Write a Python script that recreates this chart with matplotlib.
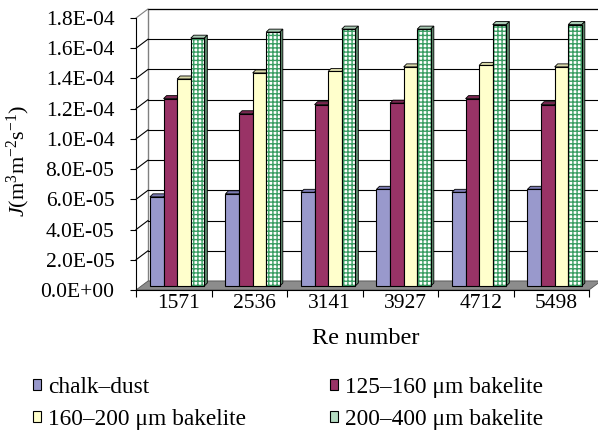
import matplotlib.pyplot as plt
import numpy as np
from matplotlib.patches import Polygon, Rectangle

plt.rcParams['font.family'] = ['Liberation Serif', 'DejaVu Serif']
plt.rcParams['mathtext.fontset'] = 'custom'
plt.rcParams['mathtext.rm'] = 'Liberation Serif'
plt.rcParams['mathtext.it'] = 'Liberation Serif:italic'
plt.rcParams['hatch.linewidth'] = 1.0

# data
re_numbers = ['1571', '2536', '3141', '3927', '4712', '5498']
series_names = ['chalk–dust', '125–160 μm bakelite', '160–200 μm bakelite', '200–400 μm bakelite']
chalk_dust = [5.9e-5, 6.1e-5, 6.2e-5, 6.4e-5, 6.2e-5, 6.4e-5]
bakelite_125_160 = [1.24e-4, 1.14e-4, 1.20e-4, 1.21e-4, 1.24e-4, 1.20e-4]
bakelite_160_200 = [1.37e-4, 1.41e-4, 1.42e-4, 1.45e-4, 1.46e-4, 1.45e-4]
bakelite_200_400 = [1.64e-4, 1.68e-4, 1.70e-4, 1.70e-4, 1.73e-4, 1.73e-4]
y_ticks = [0, 2e-5, 4e-5, 6e-5, 8e-5, 1e-4, 1.2e-4, 1.4e-4, 1.6e-4, 1.8e-4]

series = [chalk_dust, bakelite_125_160, bakelite_160_200, bakelite_200_400]
front_cols = ['#9999cc', '#993366', '#ffffcc', 'white']
top_cols = ['#7c7cb3', '#7a2851', '#d9d9aa', '#a9c9b3']
side_cols = ['#64649a', '#5f1f40', '#b3b38c', '#5e8a6c']
legend_cols = ['#9999cc', '#993366', '#ffffcc', '#b5dcc2']

n = len(re_numbers)
ymax = 1.8e-4
px_y = 272 / ymax          # pixels per unit on value axis
px_x = 75.5                # pixels per category
dxw, dyw = 12 / px_x, 9 / px_y     # wall depth
dxb, dyb = 3 / px_x, 3 / px_y      # bar depth
z0 = 4 / px_y                      # bars sit mid-floor
bw = 0.18
off = 0.185

fig = plt.figure(figsize=(5.98, 4.30), dpi=100)
ax = fig.add_axes([136 / 598, 140 / 430, 453 / 598, 272 / 430])
ax.set_xlim(0, n)
ax.set_ylim(0, ymax)

# back wall, side wall, floor
ax.add_patch(Rectangle((dxw, dyw), n, ymax, fc='white', ec='#808080', lw=1.0,
                       clip_on=False, zorder=0))
for t in y_ticks[1:]:
    ax.plot([dxw, n + dxw], [t + dyw, t + dyw], color='black', lw=0.8,
            clip_on=False, zorder=0.5)
    ax.plot([0, dxw], [t, t + dyw], color='black' if t < ymax else '#808080',
            lw=0.8, clip_on=False, zorder=0.5)
ax.add_patch(Polygon([(0, 0), (n, 0), (n + dxw, dyw), (dxw, dyw)], closed=True,
                     fc='#8c8c8c', ec='#555555', lw=0.6, clip_on=False, zorder=1))

x = np.arange(n)
for j, vals in enumerate(series):
    left = x + off + j * bw
    zf = 3 + 2 * j
    if j == 3:
        bars = ax.bar(left, vals, width=bw, bottom=z0, align='edge', color='white',
                      edgecolor='#3a9d63', hatch='++++', linewidth=0, zorder=zf)
        ax.bar(left, vals, width=bw, bottom=z0, align='edge', fill=False,
               edgecolor='black', linewidth=0.8, zorder=zf)
    else:
        bars = ax.bar(left, vals, width=bw, bottom=z0, align='edge',
                      color=front_cols[j], edgecolor='black', linewidth=0.8, zorder=zf)
    for b in bars:
        x0, w = b.get_x(), b.get_width()
        y1 = b.get_y() + b.get_height()
        y0 = b.get_y()
        top = [(x0, y1), (x0 + w, y1), (x0 + w + dxb, y1 + dyb), (x0 + dxb, y1 + dyb)]
        side = [(x0 + w, y0), (x0 + w + dxb, y0 + dyb), (x0 + w + dxb, y1 + dyb), (x0 + w, y1)]
        ax.add_patch(Polygon(top, closed=True, fc=top_cols[j], ec='black', lw=0.6,
                             zorder=zf - 1, clip_on=False))
        ax.add_patch(Polygon(side, closed=True, fc=side_cols[j], ec='black', lw=0.6,
                             zorder=zf - 1, clip_on=False))

for s in ['top', 'right']:
    ax.spines[s].set_visible(False)
ax.spines['left'].set_zorder(20)
ax.spines['bottom'].set_zorder(20)
ax.set_facecolor('none')

ax.set_yticks(y_ticks)
ax.set_yticklabels([f'{v:.1E}' for v in y_ticks])
ax.tick_params(axis='y', direction='out', length=4, pad=11.5, labelsize=15.5)

ax.set_xticks(np.arange(n + 1))
ax.set_xticklabels([])
ax.set_xticks(x + 0.5 + 0.065, minor=True)
ax.set_xticklabels(re_numbers, minor=True)
ax.tick_params(axis='x', which='major', direction='out', length=5)
ax.tick_params(axis='x', which='minor', length=0, pad=3, labelsize=15.5)

ax.set_ylabel(r'$J$(m$^{3}$m$^{-2}$s$^{-1}$)', fontsize=16)
ax.yaxis.set_label_coords((32 - 136) / 453, 0.474)
ax.set_xlabel('Re number', fontsize=17.5, va='center')
ax.xaxis.set_label_coords((366 - 136) / 453, (290 - 338) / 272)

# legend, two columns placed by hand
handles = [Rectangle((0, 0), 1, 1, fc=c, ec='black', lw=0.8) for c in legend_cols]
for col, idx in enumerate([(0, 2), (1, 3)]):
    xpos = [33 / 598, 330 / 598][col]
    fig.legend([handles[i] for i in idx], [series_names[i] for i in idx],
               loc='upper left', bbox_to_anchor=(xpos, 1 - 377 / 430), frameon=False,
               fontsize=16.8, handlelength=0.36, handleheight=0.36, handletextpad=0.28,
               labelspacing=0.48, borderpad=0, borderaxespad=0)

fig.savefig('out.png', dpi=100)
